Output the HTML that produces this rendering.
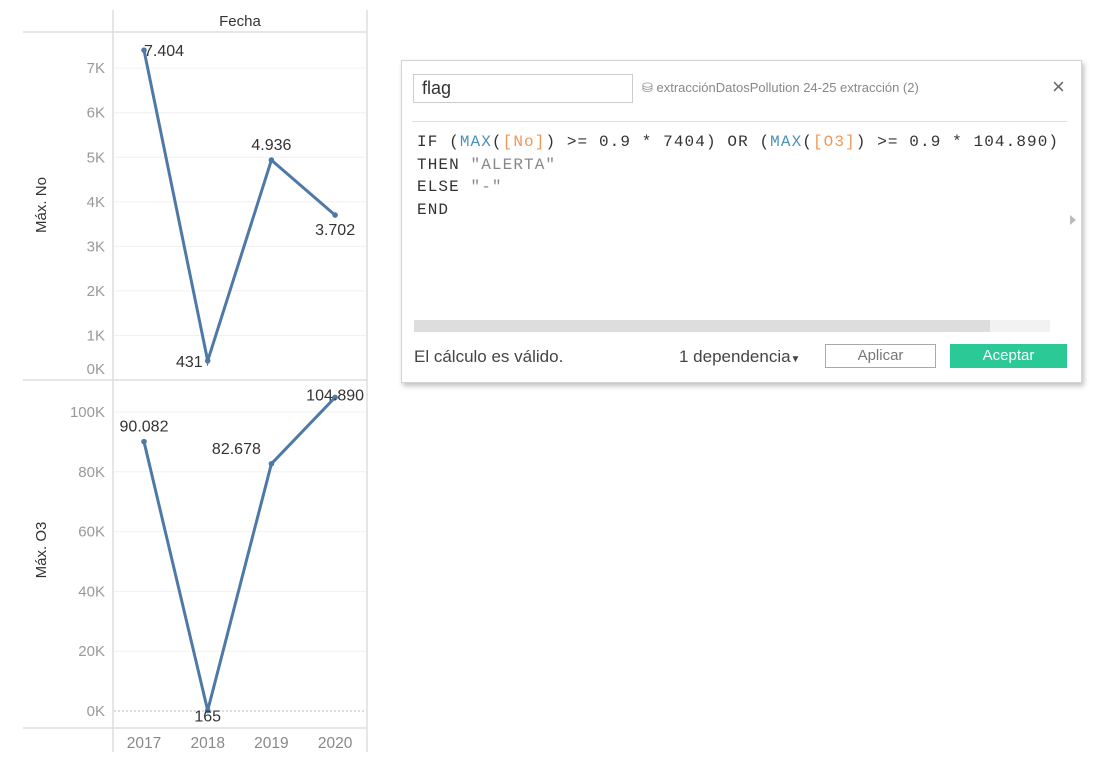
<!DOCTYPE html>
<html><head><meta charset="utf-8"><style>
body{margin:0;width:1106px;height:762px;background:#fff;font-family:"Liberation Sans",sans-serif;position:relative;overflow:hidden}
.dlg{position:absolute;left:401px;top:60px;width:679px;height:321px;border:1px solid #d4d4d4;box-shadow:2px 3px 5px rgba(0,0,0,.25);background:#fff}
.code{position:absolute;left:15px;top:70px;font-family:"Liberation Mono",monospace;font-size:16px;letter-spacing:1.1px;line-height:22.5px;color:#333;white-space:pre}
.f{color:#4a90b8}.fld{color:#f0975a}.s{color:#888}
</style></head><body>
<svg width="380" height="762" style="position:absolute;left:0;top:0">
<g id="g"></g>
</svg>
<div class="dlg">
 <div style="position:absolute;left:11px;top:13px;width:210px;height:27px;border:1px solid #ccc;font-size:18px;line-height:27px;padding-left:8px;color:#333">flag</div>
 <div style="position:absolute;left:240px;top:19px;font-size:13px;color:#888">⛁ extracciónDatosPollution 24-25 extracción (2)</div>
 <div style="position:absolute;left:650px;top:13px;font-size:22px;color:#666">×</div>
 <div style="position:absolute;left:10px;top:60px;width:655px;border-top:1px solid #ddd"></div>
 <div class="code">IF (<span class="f">MAX</span>(<span class="fld">[No]</span>) &gt;= 0.9 * 7404) OR (<span class="f">MAX</span>(<span class="fld">[O3]</span>) &gt;= 0.9 * 104.890)
THEN <span class="s">"ALERTA"</span>
ELSE <span class="s">"-"</span>
END</div>
 <div style="position:absolute;left:668px;top:154px;width:0;height:0;border-left:6px solid #bbb;border-top:5px solid transparent;border-bottom:5px solid transparent"></div>
 <div style="position:absolute;left:12px;top:259px;width:636px;height:12px;background:#f2f2f2"><div style="width:576px;height:12px;background:#ddd"></div></div>
 <div style="position:absolute;left:12px;top:286px;font-size:17px;color:#444">El cálculo es válido.</div>
 <div style="position:absolute;left:277px;top:286px;font-size:17px;color:#444">1 dependencia<span style="font-size:10px">▼</span></div>
 <div style="position:absolute;left:423px;top:283px;width:109px;height:22px;border:1px solid #aaa;text-align:center;line-height:22px;font-size:15px;color:#777">Aplicar</div>
 <div style="position:absolute;left:548px;top:283px;width:117px;height:24px;background:#2bc995;text-align:center;line-height:24px;font-size:15px;color:#fff">Aceptar</div>
</div>
<script>
const years=["2017","2018","2019","2020"];
const noVals=[7404,431,4936,3702];
const noLabels=["7.404","431","4.936","3.702"];
const o3Vals=[90082,165,82678,104890];
const o3Labels=["90.082","165","82.678","104.890"];
const noTicks=[0,1000,2000,3000,4000,5000,6000,7000];
const o3Ticks=[0,20000,40000,60000,80000,100000];
const g=document.getElementById('g');
const NS="http://www.w3.org/2000/svg";
function mk(t,a,txt){const e=document.createElementNS(NS,t);for(const k in a)e.setAttribute(k,a[k]);if(txt!=null)e.textContent=txt;g.appendChild(e);return e;}
const x=i=>144+i*63.7;
const yNo=v=>380-v*0.04455;
const yO3=v=>711-v*0.00299;
let e;
e=mk('line',{x1:113,y1:10,x2:113,y2:752,stroke:'#ddd','stroke-width':1.5});

e=mk('line',{x1:367,y1:10,x2:367,y2:752,stroke:'#ddd','stroke-width':1.5});

[32,380,728].forEach(yy=>{e=mk('line',{x1:23,y1:yy,x2:367,y2:yy,stroke:'#ddd','stroke-width':1.5});
});
e=mk('text',{x:240,y:26,'font-size':15,fill:'#333','text-anchor':'middle'},'Fecha');

noTicks.forEach(t=>{const yy=yNo(t);
 if(t>0){e=mk('line',{x1:114,y1:yy,x2:366,y2:yy,stroke:'#f0f0f0'});}
 e=mk('text',{x:105,y:Math.min(yy+5,374),'font-size':15,fill:'#999','text-anchor':'end'},(t/1000)+'K');
 });
o3Ticks.forEach(t=>{const yy=yO3(t);
 e=mk('line',{x1:114,y1:yy,x2:366,y2:yy,stroke:t?'#f0f0f0':'#bbb','stroke-dasharray':t?'':'2,2'});
 
 e=mk('text',{x:105,y:yy+5,'font-size':15,fill:'#999','text-anchor':'end'},(t/1000)+'K');
 });
e=mk('text',{x:46,y:205,'font-size':15,fill:'#333','text-anchor':'middle',transform:'rotate(-90 46 205)'},'Máx. No');

e=mk('text',{x:46,y:550,'font-size':15,fill:'#333','text-anchor':'middle',transform:'rotate(-90 46 550)'},'Máx. O3');

years.forEach((yr,i)=>{e=mk('text',{x:x(i),y:748,'font-size':15.5,fill:'#888','text-anchor':'middle'},yr);
 });
function series(vals,labels,yf,name,offs){
 e=mk('polyline',{points:vals.map((v,i)=>x(i)+','+yf(v)).join(' '),fill:'none',stroke:'#4e79a7','stroke-width':3});
 
 vals.forEach((v,i)=>{e=mk('circle',{cx:x(i),cy:yf(v),r:2.8,fill:'#4e79a7'});
  
  const o=offs[i];
  e=mk('text',{x:x(i)+o[0],y:yf(v)+o[1],'font-size':16,fill:'#333','text-anchor':o[2]},labels[i]);
  });
}
series(noVals,noLabels,yNo,'no',[[0,6,'start'],[-5,6,'end'],[0,-10,'middle'],[0,20,'middle']]);
series(o3Vals,o3Labels,yO3,'o3',[[0,-10,'middle'],[0,11,'middle'],[-35,-10,'middle'],[0,3,'middle']]);
</script>
</body></html>
